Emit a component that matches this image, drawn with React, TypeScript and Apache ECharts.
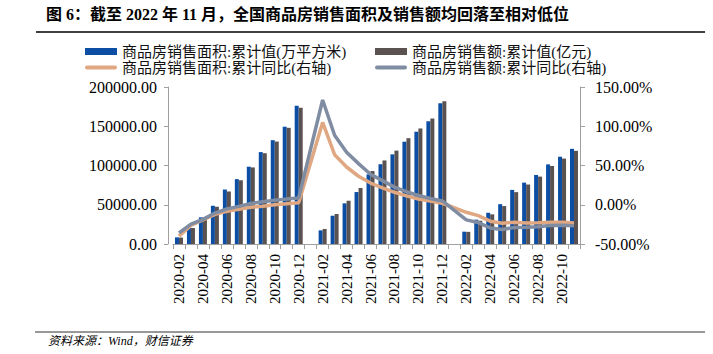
import React, { useEffect, useRef } from "react";
import * as echarts from "echarts";

const categories = [
  "2020-02", "2020-03", "2020-04", "2020-05", "2020-06", "2020-07", "2020-08", "2020-09", "2020-10", "2020-11", "2020-12",
  "2021-01", "2021-02", "2021-03", "2021-04", "2021-05", "2021-06", "2021-07", "2021-08", "2021-09", "2021-10", "2021-11", "2021-12",
  "2022-01", "2022-02", "2022-03", "2022-04", "2022-05", "2022-06", "2022-07", "2022-08", "2022-09", "2022-10", "2022-11",
];

const areaValues = [
  8475, 21978, 33973, 48703, 69404, 82609, 98486, 117073, 132271, 149392, 176086,
  null, 17363, 36007, 51770, 66190, 88635, 101622, 114193, 130332, 143041, 156355, 179433,
  null, 15703, 31046, 39768, 50738, 68923, 78178, 87890, 101422, 111179, 121250,
];

const salesValues = [
  8203, 20365, 33326, 47459, 66895, 81180, 97539, 115647, 130492, 148013, 173613,
  null, 19151, 38238, 55120, 71379, 92931, 106429, 118957, 134795, 147185, 159854, 181930,
  null, 15459, 29655, 37773, 48337, 66072, 75763, 85870, 99380, 108832, 118648,
];

const areaYoY = [
  -39.9, -26.3, -19.3, -12.3, -8.4, -5.8, -3.3, -1.8, 0.0, 1.3, 2.6,
  null, 104.9, 63.8, 48.1, 36.3, 27.7, 21.5, 15.9, 11.3, 7.3, 4.8, 1.9,
  null, -9.6, -13.8, -20.9, -23.6, -22.2, -23.1, -23.0, -22.2, -22.3, -23.3,
];

const salesYoY = [
  -35.9, -24.7, -18.6, -10.6, -5.4, -2.1, 1.6, 3.7, 5.8, 7.2, 8.7,
  null, 133.4, 88.5, 67.0, 52.4, 38.9, 30.7, 22.5, 16.6, 11.8, 8.0, 4.8,
  null, -19.3, -22.7, -29.5, -31.5, -28.9, -28.8, -27.9, -26.3, -26.1, -26.6,
];

const seriesNames = [
  "商品房销售面积:累计值(万平方米)",
  "商品房销售额:累计值(亿元)",
  "商品房销售面积:累计同比(右轴)",
  "商品房销售额:累计同比(右轴)",
];

const titleText = "图 6：截至 2022 年 11 月，全国商品房销售面积及销售额均回落至相对低位";
const sourceText = "资料来源：Wind，财信证券";

const SERIF = "'Liberation Serif', 'Times New Roman', 'Noto Sans CJK SC', serif";
const AXIS_COLOR = "#A0A0A0";
const BAR_ICON = "path://M0,0 h32 v7 h-32 z";
const LINE_ICON = "path://M2,0 h28 a2,2 0 0 1 0,4 h-28 a2,2 0 0 1 0,-4 z";

export default function App() {
  const ref = useRef<HTMLDivElement>(null);

  useEffect(() => {
    document.body.style.margin = "0";
    if (!ref.current) return;
    const chart = echarts.init(ref.current, null, { renderer: "svg" });

    const legendText = {
      fontFamily: SERIF,
      fontSize: 15,
      color: "#111",
    };

    const legendBase = {
      top: 44,
      orient: "vertical",
      itemWidth: 32,
      itemHeight: 7,
      itemGap: 1,
      padding: 0,
      symbolKeepAspect: true,
      textStyle: legendText,
    };

    chart.setOption({
      animation: false,
      backgroundColor: "#fff",
      grid: { left: 173, right: 133, top: 87, bottom: 110, containLabel: false },
      legend: [
        {
          ...legendBase,
          left: 85,
          data: [
            { name: seriesNames[0], icon: BAR_ICON },
            { name: seriesNames[2], icon: LINE_ICON },
          ],
        },
        {
          ...legendBase,
          left: 375,
          data: [
            { name: seriesNames[1], icon: BAR_ICON },
            { name: seriesNames[3], icon: LINE_ICON },
          ],
        },
      ],
      xAxis: {
        type: "category",
        data: categories,
        boundaryGap: true,
        axisLine: { lineStyle: { color: AXIS_COLOR, width: 1 } },
        axisTick: { show: true, interval: 0, length: 5, lineStyle: { color: AXIS_COLOR } },
        axisLabel: {
          interval: 1,
          rotate: 90,
          margin: 10,
          fontFamily: SERIF,
          fontSize: 15,
          color: "#000",
        },
        splitLine: { show: false },
      },
      yAxis: [
        {
          type: "value",
          min: 0,
          max: 200000,
          interval: 50000,
          offset: 5,
          axisLine: { show: true, lineStyle: { color: AXIS_COLOR } },
          axisTick: { show: true, length: 4, lineStyle: { color: AXIS_COLOR } },
          axisLabel: {
            margin: 11,
            fontFamily: SERIF,
            fontSize: 16,
            color: "#000",
            formatter: (v: number) => v.toFixed(2),
          },
          splitLine: { show: false },
        },
        {
          type: "value",
          min: -50,
          max: 150,
          interval: 50,
          position: "right",
          axisLine: { show: true, lineStyle: { color: AXIS_COLOR } },
          axisTick: { show: true, length: 5, lineStyle: { color: AXIS_COLOR } },
          axisLabel: {
            margin: 15,
            fontFamily: SERIF,
            fontSize: 16,
            color: "#000",
            formatter: (v: number) => v.toFixed(2) + "%",
          },
          splitLine: { show: false },
        },
      ],
      series: [
        {
          name: seriesNames[0],
          type: "bar",
          data: areaValues,
          yAxisIndex: 0,
          barWidth: 4,
          barGap: "0%",
          itemStyle: { color: "#0B4EA3" },
        },
        {
          name: seriesNames[1],
          type: "bar",
          data: salesValues,
          yAxisIndex: 0,
          barWidth: 4,
          barGap: "0%",
          itemStyle: { color: "#5A5151" },
        },
        {
          name: seriesNames[2],
          type: "line",
          data: areaYoY,
          yAxisIndex: 1,
          symbol: "none",
          showSymbol: false,
          connectNulls: true,
          lineStyle: { color: "#E0A882", width: 3.5 },
          itemStyle: { color: "#E0A882" },
          z: 3,
        },
        {
          name: seriesNames[3],
          type: "line",
          data: salesYoY,
          yAxisIndex: 1,
          symbol: "none",
          showSymbol: false,
          connectNulls: true,
          lineStyle: { color: "#7F8CA1", width: 3.5 },
          itemStyle: { color: "#7F8CA1" },
          z: 4,
        },
      ],
      graphic: [
        {
          type: "text",
          left: 46,
          top: 6,
          style: {
            text: titleText,
            font: `bold 16px ${SERIF}`,
            fill: "#000",
          },
        },
        {
          type: "line",
          shape: { x1: 36, y1: 32, x2: 705, y2: 32 },
          style: { stroke: "#000", lineWidth: 1.6 },
        },
        {
          type: "line",
          shape: { x1: 35, y1: 332, x2: 705, y2: 332 },
          style: { stroke: "#333", lineWidth: 1.2 },
        },
        {
          type: "text",
          left: 48,
          top: 335,
          style: {
            text: sourceText,
            font: `italic 12px ${SERIF}`,
            fill: "#000",
          },
        },
      ],
    });

    return () => chart.dispose();
  }, []);

  return <div ref={ref} style={{ width: 713, height: 354 }} />;
}
